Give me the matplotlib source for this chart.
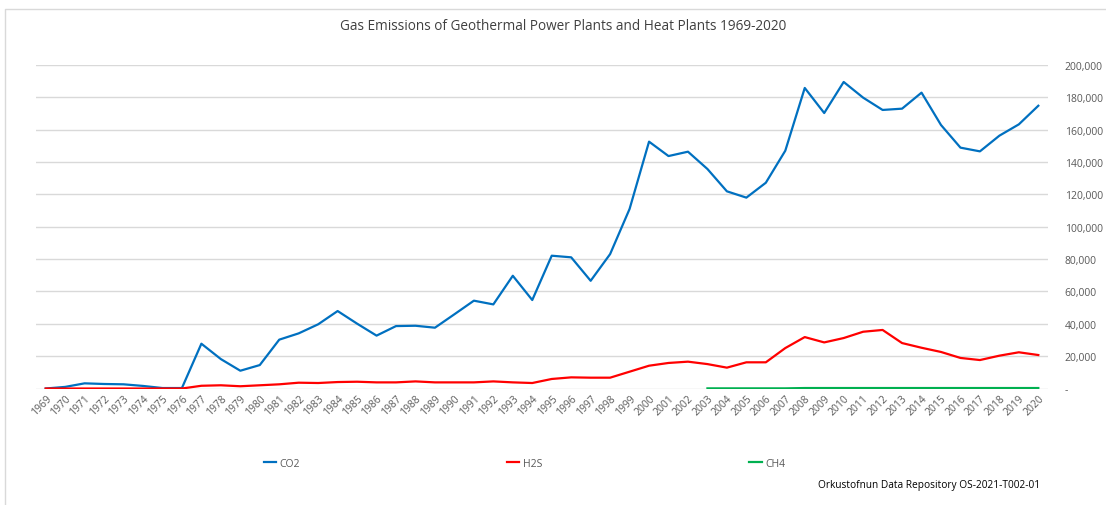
"""Gas emissions of geothermal power plants and heat plants, 1969-2020 -> out.png."""

import matplotlib

matplotlib.use("Agg")
import matplotlib.pyplot as plt
from matplotlib.lines import Line2D
from matplotlib.ticker import FuncFormatter

years = list(range(1969, 2021))

co2 = [
    0, 1000, 3200, 2800, 2600, 1600, 300, 300, 27700, 18200,
    11000, 14500, 30200, 34100, 39700, 47900, 40100, 32700, 38600, 38800,
    37600, 45900, 54300, 52000, 69700, 54700, 82100, 81100, 66600, 83100,
    111000, 152600, 143700, 146400, 135700, 121900, 118000, 127200, 147000, 185800,
    170300, 189500, 179800, 172200, 173000, 182900, 162900, 148900, 146600, 156300,
    163300, 174800,
]
h2s = [
    0, 0, 0, 0, 0, 0, 0, 0, 1700, 2000,
    1400, 2000, 2600, 3600, 3400, 4000, 4200, 3800, 3800, 4400,
    3800, 3800, 3800, 4400, 3800, 3400, 5900, 6900, 6700, 6700,
    10400, 14100, 15800, 16600, 15100, 12900, 16200, 16200, 25000, 31800,
    28500, 31200, 35100, 36200, 28100, 25200, 22600, 18900, 17600, 20300,
    22400, 20700,
]
# CH4 is only reported from 2003 on
ch4_years = list(range(2003, 2021))
ch4 = [100, 100, 100, 100, 100, 300, 300, 300, 300, 300, 300, 300, 300, 300, 300, 300, 300, 300]

series_names = ["CO2", "H2S", "CH4"]
colors = ["#0070C0", "#FF0000", "#00B050"]

plt.rcParams["font.family"] = ["Open Sans", "DejaVu Sans"]

fig = plt.figure(figsize=(11.06, 5.06), dpi=100)
ax = fig.add_axes([0.0325, 0.2302, 0.9151, 0.6394])

xs = list(range(len(years)))
ch4_x = [years.index(y) for y in ch4_years]
ax.plot(xs, co2, color=colors[0], lw=1.6, solid_joinstyle="round", zorder=3)
ax.plot(xs, h2s, color=colors[1], lw=1.6, solid_joinstyle="round", zorder=3)
ax.plot(ch4_x, ch4, color=colors[2], lw=1.6, solid_joinstyle="round", zorder=3)

ax.set_xlim(-0.5, len(years) - 0.5)
ax.set_ylim(0, 200000)
ax.set_yticks(range(0, 200001, 20000))
ax.yaxis.tick_right()
ax.yaxis.set_major_formatter(FuncFormatter(lambda v, _: "-" if v == 0 else f"{int(v):,}"))
ax.grid(axis="y", color="#D9D9D9", lw=1.0)
ax.set_axisbelow(True)
for s in ax.spines.values():
    s.set_visible(False)
ax.tick_params(axis="y", length=0, pad=12, labelsize=7.5, labelcolor="#595959")

ax.set_xticks(xs)
ax.set_xticklabels([str(y) for y in years], rotation=45, ha="right",
                   rotation_mode="anchor", fontsize=7.5, color="#595959")
ax.tick_params(axis="x", length=0, pad=3)

fig.text(0.509, 0.948, "Gas Emissions of Geothermal Power Plants and Heat Plants 1969-2020",
         ha="center", va="center", fontsize=9.8, color="#404040")

handles = [Line2D([], [], color=c, lw=1.6) for c in colors]
fig.legend(handles, series_names, loc="center", bbox_to_anchor=(0.474, 0.083),
           ncol=3, frameon=False, fontsize=7.5, labelcolor="#595959",
           handlelength=1.2, handletextpad=0.3, columnspacing=19.9)

fig.text(0.94, 0.04, "Orkustofnun Data Repository OS-2021-T002-01",
         ha="right", va="center", fontsize=7.3, color="black")

# chart-area border (cropped: only top and left edges show)
bx, by = 5 / 1106, 1 - 10 / 506
fig.add_artist(Line2D([bx, bx, 1.0], [0.0, by, by], transform=fig.transFigure,
                      color="#D9D9D9", lw=1.0))

fig.savefig("out.png", dpi=100)
